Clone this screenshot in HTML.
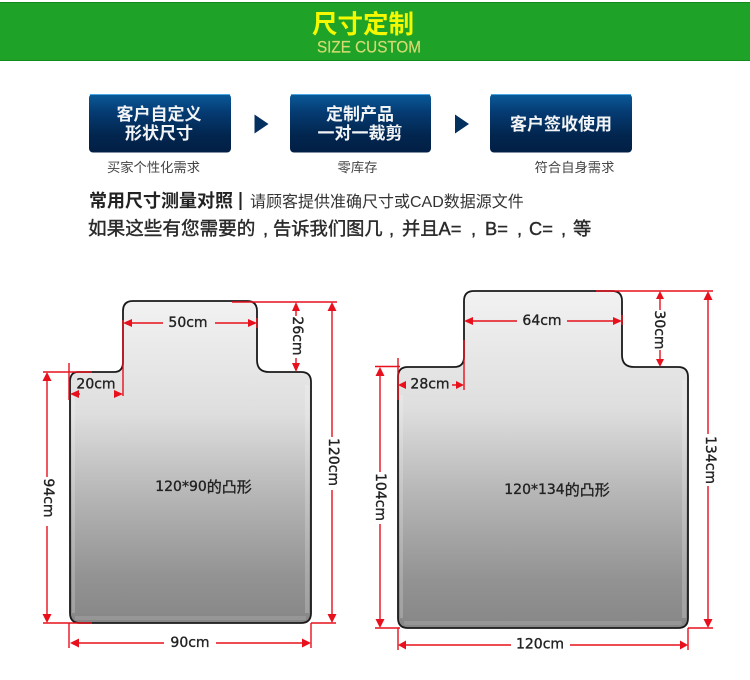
<!DOCTYPE html>
<html><head><meta charset="utf-8"><style>
html,body{margin:0;padding:0;background:#fff;width:750px;height:680px;overflow:hidden}
svg{display:block}
.cjk{font-family:"Liberation Sans","Noto Sans CJK SC",sans-serif}
.d{font-family:"DejaVu Sans","Noto Sans CJK SC",sans-serif;font-size:14px;fill:#222;stroke:#222;stroke-width:.35;text-anchor:middle;dominant-baseline:central}
.r{stroke:#e8101c;stroke-width:1.4;fill:none}
.a{fill:#e8101c}
</style></head><body>
<svg width="750" height="680" viewBox="0 0 750 680" xmlns="http://www.w3.org/2000/svg">
<defs>
<linearGradient id="btn" x1="0" y1="0" x2="0" y2="1"><stop offset="0" stop-color="#0a5b9a"/><stop offset=".3" stop-color="#053c74"/><stop offset=".7" stop-color="#02264f"/><stop offset="1" stop-color="#021f45"/></linearGradient>
<linearGradient id="g1" gradientUnits="userSpaceOnUse" x1="0" y1="300" x2="0" y2="625"><stop offset="0" stop-color="#f2f2f2"/><stop offset=".35" stop-color="#dedede"/><stop offset=".6" stop-color="#b6b6b6"/><stop offset=".85" stop-color="#939393"/><stop offset="1" stop-color="#868686"/></linearGradient>
<linearGradient id="g2" gradientUnits="userSpaceOnUse" x1="0" y1="290" x2="0" y2="630"><stop offset="0" stop-color="#f2f2f2"/><stop offset=".35" stop-color="#dedede"/><stop offset=".6" stop-color="#b6b6b6"/><stop offset=".85" stop-color="#939393"/><stop offset="1" stop-color="#868686"/></linearGradient>
</defs>

<rect x="0" y="2" width="750" height="59" fill="#1ea328"/>
<rect x="0" y="2" width="750" height="1" fill="#128a1c"/>
<rect x="0" y="60" width="750" height="1" fill="#128a1c"/>
<text x="363" y="33" class="cjk" font-size="25.5" font-weight="700" fill="#f4f800" text-anchor="middle">尺寸定制</text>
<text x="369" y="52.500" font-family="Liberation Sans" font-size="16.500" fill="#d4dc70" stroke="#d4dc70" stroke-width=".2" text-anchor="middle" textLength="104" lengthAdjust="spacingAndGlyphs">SIZE CUSTOM</text>

<g>
<rect x="89" y="94" width="142" height="58.500" rx="4" fill="url(#btn)"/><rect x="90" y="94" width="140" height="1" fill="#4ba6e4"/>
<rect x="290" y="94" width="141" height="58.500" rx="4" fill="url(#btn)"/><rect x="291" y="94" width="139" height="1" fill="#4ba6e4"/>
<rect x="490" y="94" width="142" height="58.500" rx="4" fill="url(#btn)"/><rect x="491" y="94" width="140" height="1" fill="#4ba6e4"/>
<path d="M254.500 114.500L268.500 124L254.500 133.500Z" fill="#04305f"/>
<path d="M455 114.500L469 124L455 133.500Z" fill="#04305f"/>
</g>
<g class="cjk" font-size="17" font-weight="700" fill="#f2f4f6" text-anchor="middle">
<text x="159" y="120">客户自定义</text>
<text x="159" y="139">形状尺寸</text>
<text x="360" y="120">定制产品</text>
<text x="360" y="139">一对一裁剪</text>
<text x="561" y="130">客户签收使用</text>
</g>
<g class="cjk" font-size="13.300" fill="#444" text-anchor="middle">
<text x="153.500" y="172">买家个性化需求</text>
<text x="357.500" y="172">零库存</text>
<text x="574.500" y="172">符合自身需求</text>
</g>
<text x="89" y="207" class="cjk" font-size="18" font-weight="700" fill="#222">常用尺寸测量对照</text>
<rect x="239.500" y="192" width="2" height="18" fill="#222"/>
<text x="250" y="207" class="cjk" font-size="16" fill="#333">请顾客提供准确尺寸或CAD数据源文件</text>
<g class="cjk" font-size="18.300" fill="#2a2a2a" stroke="#2a2a2a" stroke-width=".4">
<text x="88" y="235" font-size="18.600">如果这些有您需要的</text>
<text x="263" y="235">,</text>
<text x="273" y="235">告诉我们图几</text>
<text x="389" y="235">,</text>
<text x="402" y="235">并且A=</text>
<text x="471" y="235">,</text>
<text x="485" y="235">B=</text>
<text x="517" y="235">,</text>
<text x="529" y="235">C=</text>
<text x="561" y="235">,</text>
<text x="573" y="235">等</text>
</g>

<!-- left shape -->
<path d="M78 372H114Q123 372 123 362V311Q123 301 133 301H247Q257 301 257 311V360Q257 372 269 372H301Q311 372 311 382V613Q311 623 301 623H80Q70 623 70 613V382Q70 372 78 372Z" fill="url(#g1)" stroke="#1a1a1a" stroke-width="1.800"/>
<rect x="72" y="395" width="3" height="218" fill="#fff" opacity=".2"/>
<rect x="305" y="385" width="4" height="228" fill="#fff" opacity=".2"/>
<rect x="75" y="616" width="231" height="4" fill="#fff" opacity=".12"/>
<!-- right shape -->
<path d="M408 367H454Q464 367 464 357V301Q464 291 474 291H612Q622 291 622 301V355Q622 367 634 367H678Q688 367 688 377V618Q688 628 678 628H408Q398 628 398 618V377Q398 367 408 367Z" fill="url(#g2)" stroke="#1a1a1a" stroke-width="1.800"/>
<rect x="400" y="395" width="3" height="223" fill="#fff" opacity=".2"/>
<rect x="682" y="380" width="4" height="238" fill="#fff" opacity=".2"/>
<rect x="404" y="621" width="278" height="4" fill="#fff" opacity=".12"/>

<!-- left dimensions -->
<g class="r">
<path d="M232 302H337M43 372H92M69 363V400M43 623H92M311 623H336M69 623V648M311 623V648M123 320V396M257 318V328"/>
<path d="M126 323H163M215 323H254M296 305V316M296 358V370M332 305V437M332 490V620M47 375V477M47 526V620M72 394H80M115 394H121M72 643H164M216 643H308"/>
</g>
<g class="a">
<path d="M123 323l9-4v8zM257 323l-9-4v8z"/>
<path d="M296 302l-4 9h8zM296 372l-4-9h8z"/>
<path d="M332 302l-4.500 9h9zM332 623l-4.500-9h9z"/>
<path d="M47 372l-4.500 9h9zM47 623l-4.500-9h9z"/>
<path d="M70 394l9-4v8zM123 394l-9-4v8z"/>
<path d="M70 643l9-4.500v9zM311 643l-9-4.500v9z"/>
</g>
<text x="188" y="323" class="d">50cm</text>
<text x="96" y="384.500" class="d">20cm</text>
<text x="190" y="643" class="d">90cm</text>
<text class="d" transform="translate(297 336) rotate(90)">26cm</text>
<text class="d" transform="translate(333 462) rotate(90)">120cm</text>
<text class="d" transform="translate(48 498) rotate(90)">94cm</text>
<text x="203.500" y="487" class="d">120*90<tspan font-size="15">的凸形</tspan></text>

<!-- right dimensions -->
<g class="r">
<path d="M596 291H713M375 366.500H400M398 358V400M375 628H400M688 628H713M398 628V650M688 628V650M464 340V390M622 315V325"/>
<path d="M468 321H517M567 321H618M660 295V310M660 350V363M708 295V434M708 486V624M380 371V472M380 524V624M402 385H406M452 385H460M402 645H511M570 645H684"/>
</g>
<g class="a">
<path d="M464 321l9-4v8zM622 321l-9-4v8z"/>
<path d="M660 291l-4 8h8zM660 367l-4-8h8z"/>
<path d="M708 291l-4.500 9h9zM708 628l-4.500-9h9z"/>
<path d="M380 367l-4.500 9h9zM380 628l-4.500-9h9z"/>
<path d="M398 385l8-4v8zM464 385l-8-4v8z"/>
<path d="M398 645l8-4.500v9zM688 645l-8-4.500v9z"/>
</g>
<text x="542" y="321" class="d">64cm</text>
<text x="430" y="384.500" class="d">28cm</text>
<text x="540" y="644.500" class="d">120cm</text>
<text class="d" transform="translate(659 330) rotate(90)">30cm</text>
<text class="d" transform="translate(710 460) rotate(90)">134cm</text>
<text class="d" transform="translate(380 497) rotate(90)">104cm</text>
<text x="557" y="490" class="d">120*134<tspan font-size="15">的凸形</tspan></text>
</svg>
</body></html>
